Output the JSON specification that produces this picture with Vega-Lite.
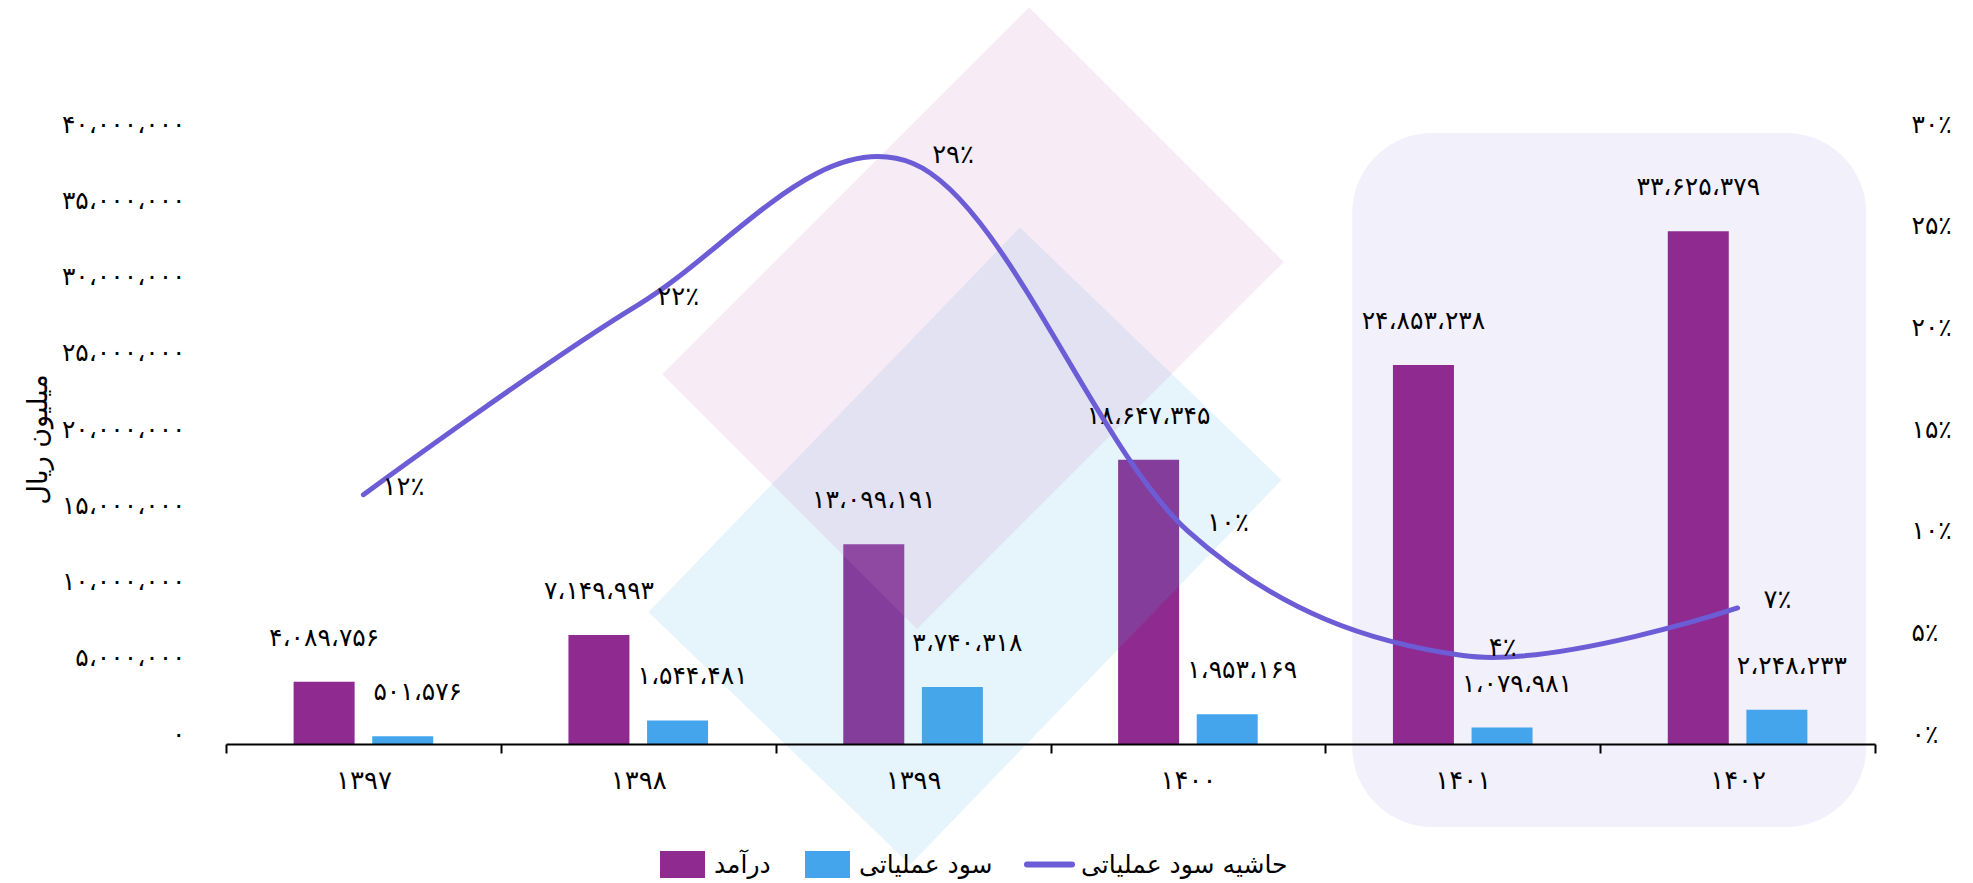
{
  "$schema": "https://vega.github.io/schema/vega-lite/v6.json",
  "width": 1649,
  "height": 610,
  "autosize": {"type": "none"},
  "padding": {"left": 226, "top": 134, "right": 98, "bottom": 139},
  "background": "white",
  "config": {
    "view": {"stroke": null},
    "font": "DejaVu Sans",
    "axis": {"labelFont": "DejaVu Sans", "labelColor": "black", "titleFont": "DejaVu Sans", "titleColor": "black", "grid": false},
    "locale": {"number": {"decimal": "٫", "thousands": "،", "grouping": [3], "currency": ["", ""], "numerals": ["۰","۱","۲","۳","۴","۵","۶","۷","۸","۹"], "percent": "٪"}}
  },
  "data": {"values": [
    {"year": "۱۳۹۷", "series": "درآمد", "value": 4089756},
    {"year": "۱۳۹۷", "series": "سود عملیاتی", "value": 501576},
    {"year": "۱۳۹۷", "series": "حاشیه سود عملیاتی", "value": 0.1226},
    {"year": "۱۳۹۸", "series": "درآمد", "value": 7149993},
    {"year": "۱۳۹۸", "series": "سود عملیاتی", "value": 1544481},
    {"year": "۱۳۹۸", "series": "حاشیه سود عملیاتی", "value": 0.2160},
    {"year": "۱۳۹۹", "series": "درآمد", "value": 13099191},
    {"year": "۱۳۹۹", "series": "سود عملیاتی", "value": 3740318},
    {"year": "۱۳۹۹", "series": "حاشیه سود عملیاتی", "value": 0.2855},
    {"year": "۱۴۰۰", "series": "درآمد", "value": 18647345},
    {"year": "۱۴۰۰", "series": "سود عملیاتی", "value": 1953169},
    {"year": "۱۴۰۰", "series": "حاشیه سود عملیاتی", "value": 0.1047},
    {"year": "۱۴۰۱", "series": "درآمد", "value": 24853238},
    {"year": "۱۴۰۱", "series": "سود عملیاتی", "value": 1079981},
    {"year": "۱۴۰۱", "series": "حاشیه سود عملیاتی", "value": 0.0435},
    {"year": "۱۴۰۲", "series": "درآمد", "value": 33625379},
    {"year": "۱۴۰۲", "series": "سود عملیاتی", "value": 2248233},
    {"year": "۱۴۰۲", "series": "حاشیه سود عملیاتی", "value": 0.0669}
  ]},
  "resolve": {"scale": {"x": "independent", "y": "independent"}},
  "layer": [
    {
      "data": {"values": [{}]},
      "mark": {"type": "rect", "color": "#F2F0FB", "cornerRadius": 80},
      "encoding": {
        "x": {"datum": 4.098, "type": "quantitative", "scale": {"domain": [0, 6], "nice": false, "zero": false}, "axis": null},
        "x2": {"datum": 5.968},
        "y": {"datum": 40070000, "type": "quantitative", "scale": {"domain": [0, 40000000], "nice": false}, "axis": null},
        "y2": {"datum": -5440000}
      }
    },
    {
      "transform": [{"filter": {"field": "series", "oneOf": ["درآمد", "سود عملیاتی"]}}],
      "mark": {"type": "bar"},
      "encoding": {
        "x": {"field": "year", "type": "nominal", "sort": null,
              "scale": {"type": "band", "domain": ["۱۳۹۷","۱۳۹۸","۱۳۹۹","۱۴۰۰","۱۴۰۱","۱۴۰۲"], "paddingInner": 0, "paddingOuter": 0},
              "axis": {"title": null, "zindex": 1, "labelAngle": 0, "domain": true, "domainColor": "black", "domainWidth": 2, "ticks": true, "tickBand": "extent", "tickColor": "black", "tickWidth": 2, "tickSize": 9, "labelFontSize": 26, "labelPadding": 14}},
        "xOffset": {"field": "series", "scale": {"domain": ["درآمد", "سود عملیاتی"], "paddingInner": 0.224, "paddingOuter": 0.86}},
        "y": {"field": "value", "type": "quantitative",
              "scale": {"domain": [0, 40000000], "nice": false},
              "axis": {"orient": "left", "values": [0, 5000000, 10000000, 15000000, 20000000, 25000000, 30000000, 35000000, 40000000], "format": ",d", "ticks": false, "domain": false, "labelFontSize": 25, "labelPadding": 41, "labelOffset": -10,
                       "title": "میلیون ریال", "titleFontSize": 27, "titleFontWeight": "normal", "titleAngle": -90, "titleX": -188, "titleY": 305, "titleAlign": "center", "titleBaseline": "middle"}},
        "color": {"field": "series", "type": "nominal",
                  "scale": {"domain": ["درآمد", "سود عملیاتی", "حاشیه سود عملیاتی"], "range": ["#8E2A90", "#45A5EC", "#6C5CD6"]},
                  "legend": {"title": null, "orient": "none", "legendX": 431, "legendY": 705, "direction": "horizontal",
                             "labelFont": "DejaVu Sans", "labelFontSize": 25, "labelColor": "black", "labelOffset": 6, "columnPadding": 22, "labelLimit": 500,
                             "symbolSize": 2025,
                             "encode": {"symbols": {"update": {
                               "shape": {"signal": "datum.value === 'حاشیه سود عملیاتی' ? 'M-1,-0.6M-1,0L1,0M1,0.6' : 'M-1,-0.6L1,-0.6L1,0.6L-1,0.6Z'"},
                               "fill": {"signal": "datum.value === 'درآمد' ? '#8E2A90' : (datum.value === 'سود عملیاتی' ? '#45A5EC' : 'transparent')"},
                               "stroke": {"signal": "datum.value === 'حاشیه سود عملیاتی' ? '#6C5CD6' : 'transparent'"},
                               "strokeWidth": {"value": 6},
                               "strokeCap": {"value": "round"},
                               "opacity": {"value": 1}
                             }}}}}
      }
    },
    {
      "data": {"values": [{}]},
      "mark": {"type": "point", "shape": "M-0.68,-1L0.68,-1L0.68,1L-0.68,1Z", "size": 286000, "angle": 44, "filled": true, "color": "#4FB0E0", "opacity": 0.14, "strokeWidth": 0},
      "encoding": {
        "x": {"datum": 2.689, "type": "quantitative", "scale": {"domain": [0, 6], "nice": false, "zero": false}, "axis": null},
        "y": {"datum": 12980000, "type": "quantitative", "scale": {"domain": [0, 40000000], "nice": false}, "axis": null}
      }
    },
    {
      "data": {"values": [{}]},
      "mark": {"type": "point", "shape": "M-0.694,-1L0.694,-1L0.694,1L-0.694,1Z", "size": 269361, "angle": 45, "filled": true, "color": "#D08AC8", "opacity": 0.16, "strokeWidth": 0},
      "encoding": {
        "x": {"datum": 2.718, "type": "quantitative", "scale": {"domain": [0, 6], "nice": false, "zero": false}, "axis": null},
        "y": {"datum": 27930000, "type": "quantitative", "scale": {"domain": [0, 40000000], "nice": false}, "axis": null}
      }
    },
    {
      "transform": [{"filter": {"field": "series", "equal": "درآمد"}}],
      "mark": {"type": "text", "fontSize": 25, "dy": -44, "baseline": "middle", "align": "center", "color": "black"},
      "encoding": {
        "x": {"field": "year", "type": "nominal", "sort": null,
              "scale": {"type": "band", "domain": ["۱۳۹۷","۱۳۹۸","۱۳۹۹","۱۴۰۰","۱۴۰۱","۱۴۰۲"], "paddingInner": 0, "paddingOuter": 0}, "axis": null},
        "xOffset": {"field": "series", "scale": {"domain": ["درآمد", "سود عملیاتی"], "paddingInner": 0.224, "paddingOuter": 0.86}},
        "y": {"field": "value", "type": "quantitative", "scale": {"domain": [0, 40000000], "nice": false}, "axis": null},
        "text": {"field": "value", "type": "quantitative", "format": ",d"}
      }
    },
    {
      "transform": [{"filter": {"field": "series", "equal": "سود عملیاتی"}}],
      "mark": {"type": "text", "fontSize": 25, "dy": -44, "dx": 15, "baseline": "middle", "align": "center", "color": "black"},
      "encoding": {
        "x": {"field": "year", "type": "nominal", "sort": null,
              "scale": {"type": "band", "domain": ["۱۳۹۷","۱۳۹۸","۱۳۹۹","۱۴۰۰","۱۴۰۱","۱۴۰۲"], "paddingInner": 0, "paddingOuter": 0}, "axis": null},
        "xOffset": {"field": "series", "scale": {"domain": ["درآمد", "سود عملیاتی"], "paddingInner": 0.224, "paddingOuter": 0.86}},
        "y": {"field": "value", "type": "quantitative", "scale": {"domain": [0, 40000000], "nice": false}, "axis": null},
        "text": {"field": "value", "type": "quantitative", "format": ",d"}
      }
    },
    {
      "transform": [{"filter": {"field": "series", "equal": "حاشیه سود عملیاتی"}}],
      "mark": {"type": "line", "interpolate": "cardinal", "color": "#6C5CD6", "strokeWidth": 5, "strokeCap": "round"},
      "encoding": {
        "x": {"field": "year", "type": "nominal", "sort": null,
              "scale": {"type": "band", "domain": ["۱۳۹۷","۱۳۹۸","۱۳۹۹","۱۴۰۰","۱۴۰۱","۱۴۰۲"], "paddingInner": 0, "paddingOuter": 0}, "axis": null},
        "y": {"field": "value", "type": "quantitative", "scale": {"domain": [0, 0.3], "nice": false},
              "axis": {"orient": "right", "values": [0, 0.05, 0.1, 0.15, 0.2, 0.25, 0.3], "format": ".0%", "ticks": false, "domain": false, "labelFontSize": 25, "labelPadding": 36, "labelOffset": -10, "labelAlign": "left", "title": null}}
      }
    },
    {
      "transform": [{"filter": {"field": "series", "equal": "حاشیه سود عملیاتی"}}],
      "mark": {"type": "text", "fontSize": 26, "dx": 40, "dy": -8, "baseline": "middle", "align": "center", "color": "black"},
      "encoding": {
        "x": {"field": "year", "type": "nominal", "sort": null,
              "scale": {"type": "band", "domain": ["۱۳۹۷","۱۳۹۸","۱۳۹۹","۱۴۰۰","۱۴۰۱","۱۴۰۲"], "paddingInner": 0, "paddingOuter": 0}, "axis": null},
        "y": {"field": "value", "type": "quantitative", "scale": {"domain": [0, 0.3], "nice": false}, "axis": null},
        "text": {"field": "value", "type": "quantitative", "format": ".0%"}
      }
    }
  ]
}
